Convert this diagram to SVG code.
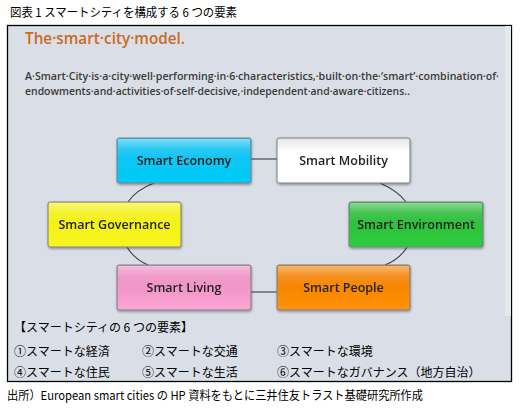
<svg xmlns="http://www.w3.org/2000/svg" width="523" height="409" viewBox="0 0 523 409">
<defs>
<style>
.jp{font-family:"Noto Sans CJK JP","Noto Sans",sans-serif;font-size:12px;fill:#000}
.lbl{font-family:"Open Sans","DejaVu Sans",sans-serif;font-size:12.5px;font-weight:600;fill:#222;text-anchor:middle}
.par{font-family:"Open Sans","DejaVu Sans",sans-serif;font-size:10.5px;font-weight:600;fill:#3a3a3a}
.box{stroke:#7a7f86;stroke-width:1}
.gloss{fill:url(#gl)}
.con{fill:none;stroke:#3c3f44;stroke-width:1.1}
</style>
<linearGradient id="gl" x1="0" y1="0" x2="0" y2="1">
<stop offset="0" stop-color="#fff" stop-opacity="0.45"/>
<stop offset="0.5" stop-color="#fff" stop-opacity="0.12"/>
<stop offset="1" stop-color="#fff" stop-opacity="0"/>
</linearGradient>
<linearGradient id="cy" x1="0" y1="0" x2="0" y2="1"><stop offset="0" stop-color="#14bff0"/><stop offset="1" stop-color="#00cdf8"/></linearGradient>
<linearGradient id="wh" x1="0" y1="0" x2="0" y2="1"><stop offset="0" stop-color="#e4e4e4"/><stop offset="0.3" stop-color="#ffffff"/><stop offset="1" stop-color="#ffffff"/></linearGradient>
<linearGradient id="ye" x1="0" y1="0" x2="0" y2="1"><stop offset="0" stop-color="#f2ee10"/><stop offset="1" stop-color="#f8f520"/></linearGradient>
<linearGradient id="gr" x1="0" y1="0" x2="0" y2="1"><stop offset="0" stop-color="#2cb83a"/><stop offset="1" stop-color="#2ecc3e"/></linearGradient>
<linearGradient id="pk" x1="0" y1="0" x2="0" y2="1"><stop offset="0" stop-color="#e886bd"/><stop offset="1" stop-color="#fca6d4"/></linearGradient>
<linearGradient id="or" x1="0" y1="0" x2="0" y2="1"><stop offset="0" stop-color="#f07c00"/><stop offset="1" stop-color="#ff9208"/></linearGradient>
<filter id="sh" x="-10%" y="-10%" width="120%" height="130%"><feDropShadow dx="0.5" dy="1.5" stdDeviation="1" flood-color="#000" flood-opacity="0.35"/></filter>
</defs>
<rect width="523" height="409" fill="#fff"/>
<text class="jp" x="10" y="17" textLength="227" lengthAdjust="spacingAndGlyphs">図表 1 スマートシティを構成する 6 つの要素</text>
<rect x="7.5" y="25.5" width="504" height="356" fill="#dadfe7" stroke="#000" stroke-width="1.3"/>
<rect x="505" y="26" width="6" height="290" fill="#e5e8ed"/>
<text x="25" y="44" font-family="'Open Sans','DejaVu Sans',sans-serif" font-size="16.5" font-weight="600" fill="#cc6a22" textLength="160" lengthAdjust="spacingAndGlyphs">The·smart·city·model.</text>
<text class="par" x="25" y="80" textLength="474" lengthAdjust="spacingAndGlyphs">A·Smart·City·is·a·city·well·performing·in·6·characteristics,·built·on·the·‘smart’·combination·of·</text>
<text class="par" x="25" y="95" textLength="385" lengthAdjust="spacingAndGlyphs">endowments·and·activities·of·self-decisive,·independent·and·aware·citizens..</text>
<g id="connectors">
<line class="con" x1="251" y1="159" x2="277" y2="159"/>
<line class="con" x1="251" y1="292" x2="277" y2="292"/>
<path class="con" d="M154,183 Q136,190 128,202"/>
<path class="con" d="M127,247 Q134,259 148,265"/>
<path class="con" d="M380,183 Q398,191 406,202"/>
<path class="con" d="M407,247 Q400,259 385,265"/>
</g>
<g id="n-economy" filter="url(#sh)"><rect class="box" x="117" y="138" width="134" height="45" rx="2" fill="url(#cy)"/><rect x="118" y="139" width="132" height="20" class="gloss"/><text class="lbl" x="184" y="165">Smart Economy</text></g>
<g id="n-mobility" filter="url(#sh)"><rect class="box" x="277" y="138" width="133" height="45" rx="2" fill="url(#wh)"/><text class="lbl" x="343.5" y="165">Smart Mobility</text></g>
<g id="n-governance" filter="url(#sh)"><rect class="box" x="48" y="202" width="133" height="45" rx="2" fill="url(#ye)"/><rect x="49" y="203" width="131" height="20" class="gloss"/><text class="lbl" x="114.5" y="229">Smart Governance</text></g>
<g id="n-environment" filter="url(#sh)"><rect class="box" x="349" y="202" width="134" height="45" rx="2" fill="url(#gr)"/><rect x="350" y="203" width="132" height="20" class="gloss"/><text class="lbl" x="416" y="229">Smart Environment</text></g>
<g id="n-living" filter="url(#sh)"><rect class="box" x="117" y="265" width="134" height="45" rx="2" fill="url(#pk)"/><rect x="118" y="266" width="132" height="20" class="gloss"/><text class="lbl" x="184" y="292">Smart Living</text></g>
<g id="n-people" filter="url(#sh)"><rect class="box" x="277" y="265" width="133" height="45" rx="2" fill="url(#or)"/><rect x="278" y="266" width="131" height="20" class="gloss"/><text class="lbl" x="343.5" y="292">Smart People</text></g>
<g id="legend">
<text class="jp" x="14" y="332">【スマートシティの 6 つの要素】</text>
<text class="jp" x="14" y="356">①スマートな経済</text>
<text class="jp" x="142" y="356">②スマートな交通</text>
<text class="jp" x="277" y="356">③スマートな環境</text>
<text class="jp" x="14" y="377">④スマートな住民</text>
<text class="jp" x="142" y="377">⑤スマートな生活</text>
<text class="jp" x="277" y="377">⑥スマートなガバナンス（地方自治）</text>
</g>
<text class="jp" x="7" y="400" textLength="416" lengthAdjust="spacingAndGlyphs">出所）European smart cities の HP 資料をもとに三井住友トラスト基礎研究所作成</text>
</svg>
